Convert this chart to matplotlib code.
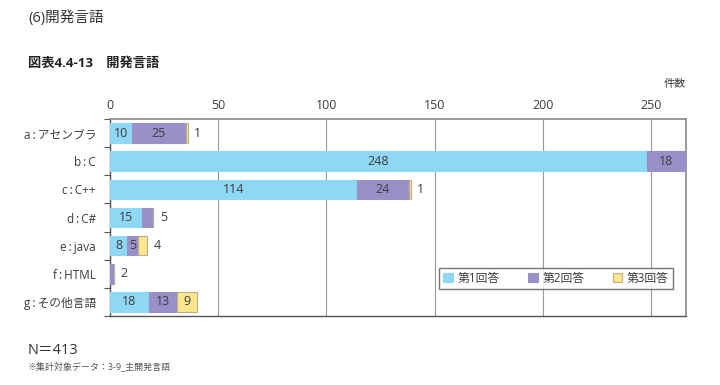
import numpy as np
import matplotlib.pyplot as plt
from matplotlib.ticker import FixedLocator

plt.rcParams['font.family'] = ['Open Sans', 'Noto Sans CJK JP', 'DejaVu Sans']

categories = ["a\u2009:\u2009アセンブラ", "b\u2009:\u2009C", "c\u2009:\u2009C++", "d\u2009:\u2009C#",
              "e\u2009:\u2009java", "f\u2009:\u2009HTML", "g\u2009:\u2009その他言語"]
first = [10, 248, 114, 15, 8, 0, 18]
second = [25, 18, 24, 5, 5, 2, 13]
third = [1, 0, 1, 0, 4, 0, 9]
series_names = ["第1回答", "第2回答", "第3回答"]
colors = ["#8ed8f6", "#9b8fc9", "#fde68c"]
edge_colors = ["#8ed8f6", "#9b8fc9", "#b8b08a"]

text_col = "#3c3c3c"

fig = plt.figure(figsize=(7.2, 3.85), dpi=100)
ax = fig.add_axes([110 / 720, 1 - 316 / 385, 576 / 720, 197 / 385])

y = np.arange(len(categories))
left = np.zeros(len(categories))
series = [first, second, third]
for k, vals in enumerate(series):
    vals = np.array(vals, dtype=float)
    ax.barh(y, vals, left=left, height=0.7, color=colors[k],
            edgecolor=edge_colors[k], linewidth=0.8, label=series_names[k], zorder=3)
    for i, v in enumerate(vals):
        if v == 0:
            continue
        # small last segment -> label goes to the right of the bar
        is_last = all(series[j][i] == 0 for j in range(k + 1, 3))
        if is_last and v < 6:
            ax.text(left[i] + v + 3, y[i], str(int(v)), va="center", ha="left",
                    fontsize=9, color=text_col, zorder=4)
        else:
            ax.text(left[i] + v / 2, y[i], str(int(v)), va="center", ha="center",
                    fontsize=9, color=text_col, zorder=4)
    left += vals

ax.set_xlim(0, 266.2)
ax.set_ylim(6.5, -0.5)
ax.xaxis.tick_top()
ax.set_xticks([0, 50, 100, 150, 200, 250])
ax.tick_params(axis="x", length=0, labelsize=9, labelcolor=text_col, pad=5)
ax.grid(axis="x", color="#9a9a9a", linewidth=0.8, zorder=0)

ax.set_yticks(y)
ax.set_yticklabels(categories)
ax.tick_params(axis="y", which="major", length=0, labelsize=8.5, labelcolor=text_col, pad=10)
ax.yaxis.set_minor_locator(FixedLocator(np.arange(-0.5, 7, 1)))
ax.tick_params(axis="y", which="minor", length=4, width=0.8, color="#555555", direction="out")

for s in ["top", "right"]:
    ax.spines[s].set_color("#888888")
    ax.spines[s].set_linewidth(1.2)
for s in ["left", "bottom"]:
    ax.spines[s].set_color("#555555")
    ax.spines[s].set_linewidth(1.0)

leg = ax.legend(loc="lower right", bbox_to_anchor=(0.977, 0.137), ncol=3, fontsize=8.5,
                frameon=True, fancybox=False, edgecolor="#555555", handlelength=0.8,
                handleheight=0.8, columnspacing=2.4, handletextpad=0.4,
                borderpad=0.35, borderaxespad=0, labelcolor=text_col)
leg.get_frame().set_linewidth(1.0)

fig.text(28 / 720, 1 - 18 / 385, "(6)開発言語", fontsize=10.5, color="#333333", va="center")
fig.text(28 / 720, 1 - 63 / 385, "図表4.4-13　開発言語", fontsize=9.5, fontweight="bold",
         color="#222222", va="center")
fig.text(686 / 720, 1 - 85 / 385, "件数", fontsize=8, color=text_col, va="center", ha="right")
fig.text(28 / 720, 1 - 350 / 385, "N＝413", fontsize=10.5, color="#333333", va="center")
fig.text(28 / 720, 1 - 366 / 385, "※集計対象データ：3-9_主開発言語", fontsize=6.5,
         color="#555555", va="center")

fig.savefig("out.png", dpi=100)
